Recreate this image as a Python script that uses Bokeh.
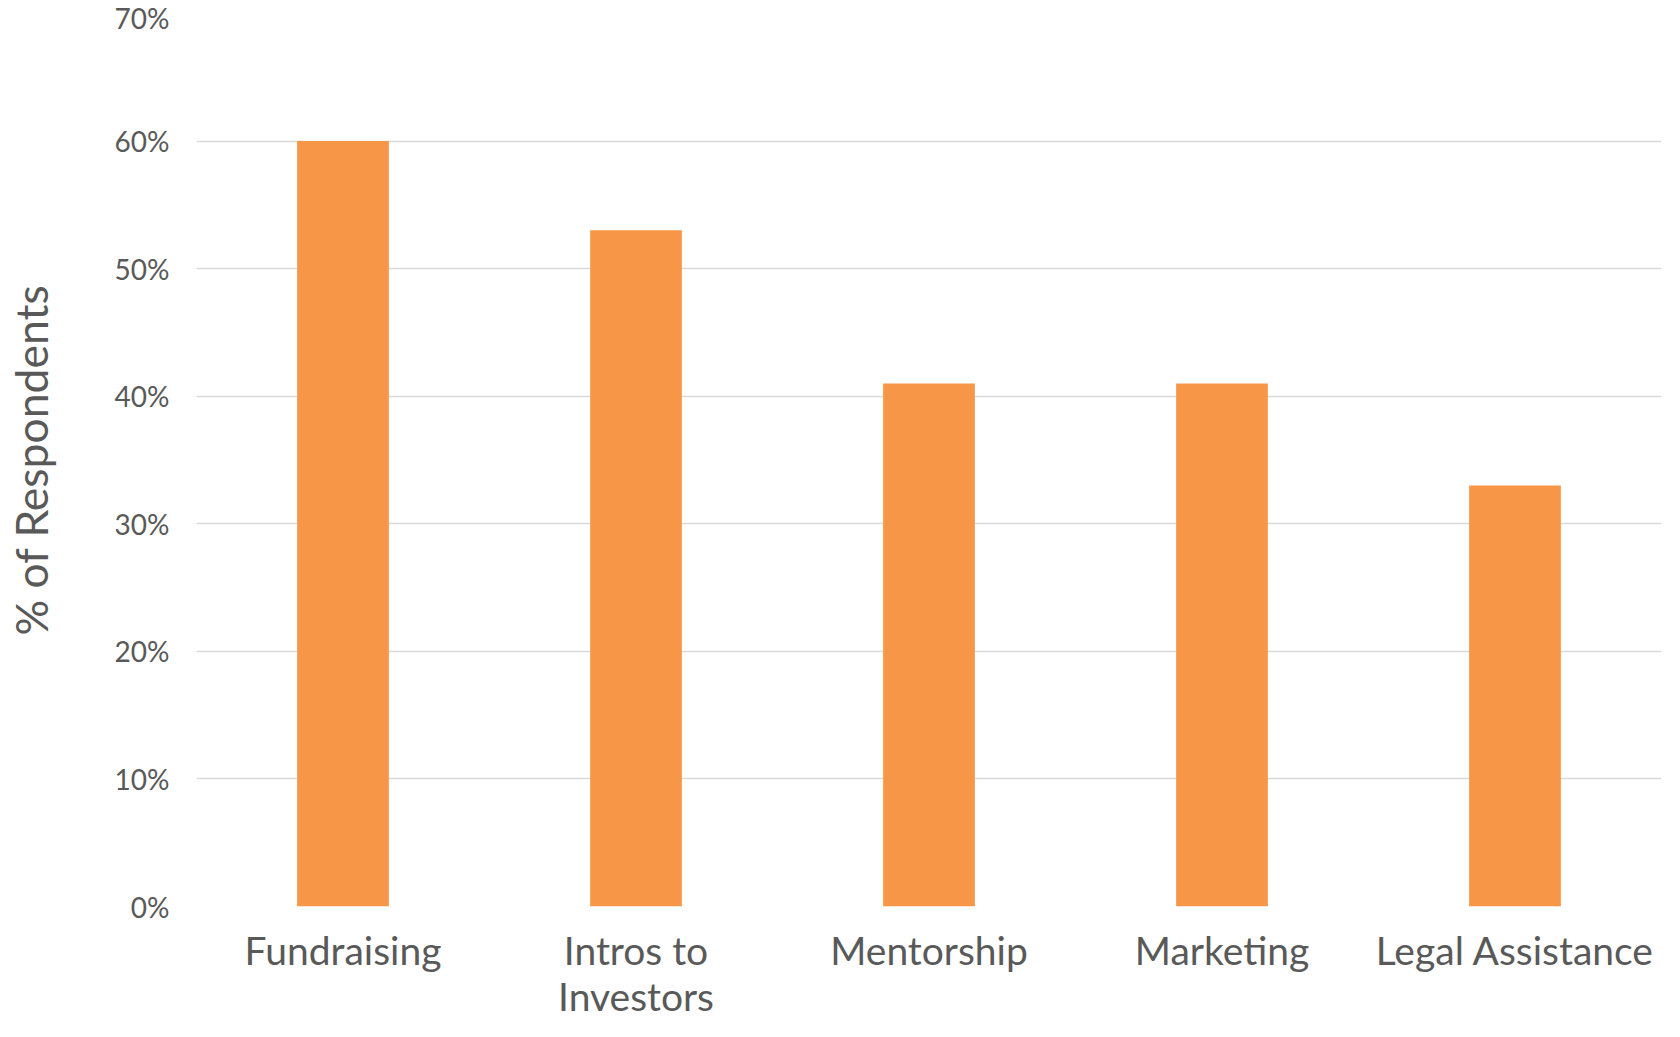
from bokeh.plotting import figure
from bokeh.models import FactorRange, NumeralTickFormatter, FixedTicker, Range1d
from bokeh.layouts import column
from bokeh.core.properties import value
from bokeh.embed import file_html
from bokeh.resources import INLINE

categories = ["Fundraising", "Intros to\nInvestors", "Mentorship", "Marketing", "Legal Assistance"]
values = [0.60, 0.53, 0.41, 0.41, 0.33]
y_ticks = [0, 0.1, 0.2, 0.3, 0.4, 0.5, 0.6, 0.7]

FONT = "Lato"
TXT = "#595959"

xr = FactorRange(factors=categories, range_padding=0)

p = figure(x_range=xr, y_range=(0, 0.70), width=1664, height=928,
           output_backend="svg", toolbar_location=None,
           min_border_left=191, min_border_right=3,
           min_border_top=13, min_border_bottom=22)

p.vbar(x=categories, top=values, width=0.313, color="#F79646", line_color=None)

p.outline_line_color = None
p.xgrid.grid_line_color = None
p.ygrid.grid_line_color = "#D9D9D9"
p.ygrid.grid_line_width = 1.5

p.yaxis.ticker = FixedTicker(ticks=y_ticks)
p.yaxis.formatter = NumeralTickFormatter(format="0%")
p.yaxis.axis_line_color = None
p.yaxis.major_tick_line_color = None
p.yaxis.minor_tick_line_color = None
p.yaxis.major_label_text_font = FONT
p.yaxis.major_label_text_font_size = "28px"
p.yaxis.major_label_text_color = TXT
p.yaxis.major_label_standoff = 21
p.yaxis.axis_label = "% of Respondents"
p.yaxis.axis_label_text_font = FONT
p.yaxis.axis_label_text_font_size = "44.5px"
p.yaxis.axis_label_text_font_style = "normal"
p.yaxis.axis_label_text_color = TXT
p.yaxis.axis_label_standoff = 55
p.xaxis.visible = False

# category labels: a strip below the chart that shares the chart's x range
line1 = [c.split("\n")[0] for c in categories]
line2 = [c.split("\n")[1] if "\n" in c else "" for c in categories]

q = figure(x_range=xr, y_range=Range1d(92, 0), width=1664, height=92,
           output_backend="svg", toolbar_location=None,
           min_border_left=191, min_border_right=3,
           min_border_top=0, min_border_bottom=0)
q.axis.visible = False
q.grid.visible = False
q.outline_line_color = None
for txt, yy in ((line1, 21), (line2, 67)):
    q.text(x=categories, y=[yy] * len(categories), text=txt,
           text_align="center", text_baseline="alphabetic",
           text_font=value(FONT), text_font_size="39px", text_color=TXT)

layout = column(p, q, spacing=0)
open("out.html", "w").write(file_html(layout, INLINE))
